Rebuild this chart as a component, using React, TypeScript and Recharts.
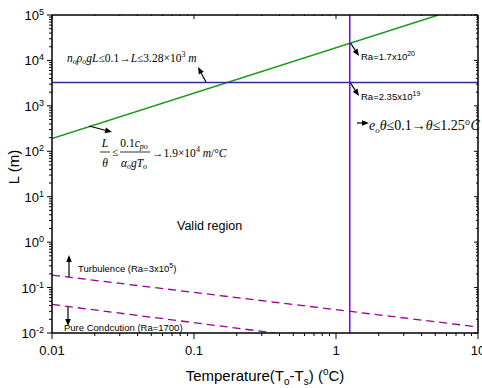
import { ComposedChart, Line, XAxis, YAxis } from 'recharts';

// axis ticks
const xMajor = [0.01, 0.1, 1, 10];
const yMajor = [1e-2, 1e-1, 1, 1e1, 1e2, 1e3, 1e4, 1e5];
const minorSteps = [2, 3, 4, 5, 6, 7, 8, 9];

// series (theta in degC, L in m)
const thetaLimit = [{ x: 0.01, y: 190 }, { x: 5.26, y: 1e5 }];
const lengthLimit = [{ x: 0.01, y: 3280 }, { x: 10, y: 3280 }];
const tempLimit = [{ x: 1.25, y: 0.01 }, { x: 1.25, y: 1e5 }];
const turbulence = [{ x: 0.01, y: 0.188 }, { x: 10, y: 0.0136 }];
const conduction = [{ x: 0.01, y: 0.0425 }, { x: 0.37, y: 0.01 }];

const W = 482;
const H = 388;
const PLOT = { left: 52, right: 478, top: 15, bottom: 333 };
const SANS = '"Liberation Sans", Arial, sans-serif';
const SERIF = '"Liberation Serif", "Times New Roman", serif';

const withMinors = (majors: number[]) =>
  majors.flatMap((m, i) => (i === majors.length - 1 ? [m] : [m, ...minorSteps.map((k) => k * m)]));

const isMajor = (v: number) => {
  const l = Math.log10(v);
  return Math.abs(l - Math.round(l)) < 1e-6;
};

const YTick = ({ x, y, payload }: any) => {
  const v = payload.value;
  const major = isMajor(v);
  const len = major ? 5 : 3;
  return (
    <g>
      <line x1={x - len} x2={x} y1={y} y2={y} stroke="#000" strokeWidth={1} />
      <line x1={PLOT.right - len + 1} x2={PLOT.right} y1={y} y2={y} stroke="#000" strokeWidth={1} />
      {major && (
        <text x={x - 8} y={y + 5} textAnchor="end" fontSize={13} fontFamily={SANS} fill="#000">
          10<tspan dy={-5} fontSize={9}>{Math.round(Math.log10(v))}</tspan>
        </text>
      )}
    </g>
  );
};

const XTick = ({ x, y, payload }: any) => {
  const v = payload.value;
  const major = isMajor(v);
  const len = major ? 6 : 3;
  return (
    <g>
      <line x1={x} x2={x} y1={y} y2={y + len} stroke="#000" strokeWidth={1} />
      <line x1={x} x2={x} y1={PLOT.top} y2={PLOT.top + len - 2} stroke="#000" strokeWidth={1} />
      {major && (
        <text x={x} y={y + 22} textAnchor="middle" fontSize={13} fontFamily={SANS} fill="#000">
          {String(v)}
        </text>
      )}
    </g>
  );
};

const Arrow = ({ x1, y1, x2, y2 }: { x1: number; y1: number; x2: number; y2: number }) => {
  const a = Math.atan2(y2 - y1, x2 - x1);
  const hl = 7;
  const hw = 2.8;
  const bx = x2 - hl * Math.cos(a);
  const by = y2 - hl * Math.sin(a);
  const px = -Math.sin(a) * hw;
  const py = Math.cos(a) * hw;
  return (
    <g>
      <line x1={x1} y1={y1} x2={bx} y2={by} stroke="#000" strokeWidth={1.2} />
      <polygon points={`${x2},${y2} ${bx + px},${by + py} ${bx - px},${by - py}`} fill="#000" />
    </g>
  );
};

const Overlay = () => (
  <svg width={W} height={H} style={{ position: 'absolute', left: 0, top: 0, pointerEvents: 'none' }}>
    {/* frame */}
    <line x1={PLOT.left} x2={PLOT.right} y1={PLOT.top} y2={PLOT.top} stroke="#000" strokeWidth={1.5} />
    <line x1={PLOT.right} x2={PLOT.right} y1={PLOT.top} y2={PLOT.bottom} stroke="#000" strokeWidth={1.5} />

    {/* axis titles */}
    <text x={265} y={381} textAnchor="middle" fontSize={15} fontFamily={SANS} fill="#000">
      Temperature(T<tspan dy={4} fontSize={10}>o</tspan>
      <tspan dy={-4}>-T</tspan>
      <tspan dy={4} fontSize={10}>s</tspan>
      <tspan dy={-4}>) (</tspan>
      <tspan dy={-6} fontSize={10}>o</tspan>
      <tspan dy={6}>C)</tspan>
    </text>
    <text x={19} y={167} textAnchor="middle" fontSize={15} fontFamily={SANS} fill="#000" transform="rotate(-90 19 167)">
      L (m)
    </text>

    {/* L limit */}
    <text x={67} y={62} fontSize={11.5} fontFamily={SERIF} fontStyle="italic" fill="#000">
      n<tspan dy={2} fontSize={8}>o</tspan>
      <tspan dy={-2}>ρ</tspan>
      <tspan dy={2} fontSize={8}>o</tspan>
      <tspan dy={-2}>gL≤</tspan>
      <tspan fontStyle="normal">0.1→</tspan>
      <tspan>L≤</tspan>
      <tspan fontStyle="normal">3.28×10</tspan>
      <tspan dy={-5} fontSize={8} fontStyle="normal">3</tspan>
      <tspan dy={5}> m</tspan>
    </text>
    <Arrow x1={206} y1={82} x2={198} y2={67} />

    {/* L/theta limit */}
    <Arrow x1={89} y1={126} x2={112} y2={132} />
    <g fontFamily={SERIF} fontSize={11.5} fill="#000">
      <text x={105} y={147} textAnchor="middle" fontStyle="italic">L</text>
      <line x1={100} x2={110} y1={152} y2={152} stroke="#000" strokeWidth={0.8} />
      <text x={105} y={167} textAnchor="middle" fontStyle="italic">θ</text>
      <text x={112} y={156}>≤</text>
      <text x={134} y={147} textAnchor="middle">
        0.1<tspan fontStyle="italic">c</tspan>
        <tspan dy={2} fontSize={8} fontStyle="italic">po</tspan>
      </text>
      <line x1={120} x2={150} y1={152} y2={152} stroke="#000" strokeWidth={0.8} />
      <text x={134} y={167} textAnchor="middle" fontStyle="italic">
        α<tspan dy={2} fontSize={8}>o</tspan>
        <tspan dy={-2}>gT</tspan>
        <tspan dy={2} fontSize={8}>o</tspan>
      </text>
      <text x={152} y={157}>
        →1.9×10<tspan dy={-5} fontSize={8}>4</tspan>
        <tspan dy={5} fontStyle="italic"> m</tspan>/°<tspan fontStyle="italic">C</tspan>
      </text>
    </g>

    {/* Ra labels */}
    <Arrow x1={350.5} y1={43} x2={359} y2={56} />
    <text x={361} y={60} fontSize={9.5} fontFamily={SANS} fill="#000">
      Ra=1.7x10<tspan dy={-4} fontSize={7}>20</tspan>
    </text>
    <Arrow x1={350.5} y1={83} x2={359} y2={96} />
    <text x={361} y={100} fontSize={9.5} fontFamily={SANS} fill="#000">
      Ra=2.35x10<tspan dy={-4} fontSize={7}>19</tspan>
    </text>

    {/* theta limit */}
    <Arrow x1={357} y1={123} x2={369} y2={123} />
    <text x={369} y={130} fontSize={14} fontFamily={SERIF} fontStyle="italic" fill="#000">
      e<tspan dy={3} fontSize={9}>o</tspan>
      <tspan dy={-3}>θ≤</tspan>
      <tspan fontStyle="normal">0.1→</tspan>
      <tspan>θ≤</tspan>
      <tspan fontStyle="normal">1.25°</tspan>
      <tspan>C</tspan>
    </text>

    <text x={177} y={230} fontSize={12.5} fontFamily={SANS} fill="#000">Valid region</text>

    {/* Ra bounds */}
    <Arrow x1={69} y1={277} x2={69} y2={255} />
    <text x={78} y={272} fontSize={9.5} fontFamily={SANS} fill="#000">
      Turbulence (Ra=3x10<tspan dy={-4} fontSize={7}>5</tspan>
      <tspan dy={4}>)</tspan>
    </text>
    <Arrow x1={68} y1={307} x2={68} y2={326} />
    <text x={64} y={331} fontSize={9.5} fontFamily={SANS} fill="#000">
      Pure Condcution (Ra=1700)
    </text>
  </svg>
);

export default function App() {
  return (
    <div style={{ position: 'absolute', left: 0, top: 0, width: W, height: H, background: '#fff' }}>
      <ComposedChart width={W} height={H} margin={{ top: PLOT.top, right: W - PLOT.right, bottom: 0, left: 0 }}>
        <XAxis
          type="number"
          dataKey="x"
          scale="log"
          domain={[0.01, 10]}
          allowDataOverflow
          ticks={withMinors(xMajor)}
          interval={0}
          tickSize={0}
          tickMargin={0}
          tick={<XTick />}
          height={H - PLOT.bottom}
          axisLine={{ stroke: '#000', strokeWidth: 1.5 }}
        />
        <YAxis
          type="number"
          dataKey="y"
          scale="log"
          domain={[0.01, 1e5]}
          allowDataOverflow
          ticks={withMinors(yMajor)}
          interval={0}
          tickSize={0}
          tickMargin={0}
          tick={<YTick />}
          width={PLOT.left}
          axisLine={{ stroke: '#000', strokeWidth: 1.5 }}
        />
        <Line data={thetaLimit} dataKey="y" stroke="#1a9a1a" strokeWidth={1.5} dot={false} isAnimationActive={false} />
        <Line data={lengthLimit} dataKey="y" stroke="#2e2e9e" strokeWidth={1.5} dot={false} isAnimationActive={false} />
        <Line data={tempLimit} dataKey="y" stroke="#8000ff" strokeWidth={1.5} dot={false} isAnimationActive={false} />
        <Line data={turbulence} dataKey="y" stroke="#990099" strokeWidth={1.3} strokeDasharray="8 5" dot={false} isAnimationActive={false} />
        <Line data={conduction} dataKey="y" stroke="#990099" strokeWidth={1.3} strokeDasharray="8 5" dot={false} isAnimationActive={false} />
      </ComposedChart>
      <Overlay />
    </div>
  );
}
